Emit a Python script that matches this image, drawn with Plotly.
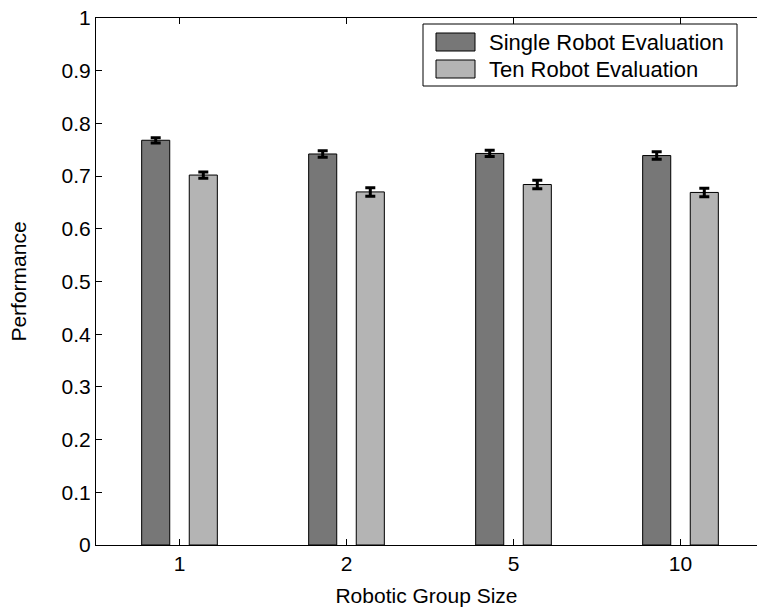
import plotly.graph_objects as go

group_sizes = ["1", "2", "5", "10"]
single_eval = [0.768, 0.742, 0.743, 0.739]
single_err = [0.005, 0.006, 0.006, 0.007]
ten_eval = [0.702, 0.670, 0.684, 0.669]
ten_err = [0.006, 0.008, 0.008, 0.008]
series_names = ["Single Robot Evaluation", "Ten Robot Evaluation"]
series_colors = ["#777777", "#b4b4b4"]

FONT = "Liberation Sans, Arial, Helvetica, sans-serif"

fig = go.Figure()
for name, vals, errs, col in zip(series_names, [single_eval, ten_eval],
                                 [single_err, ten_err], series_colors):
    fig.add_trace(go.Bar(
        x=group_sizes, y=vals, name=name,
        marker=dict(color=col, line=dict(color="black", width=1)),
        error_y=dict(type="data", array=errs, visible=True,
                     color="black", thickness=3, width=5),
        showlegend=False,
    ))

W, H = 757, 612
ml, mr, mt, mb = 96, 0, 18, 67
plot_w = W - ml - mr
cat_px = 167.0

fig.update_layout(
    width=W, height=H,
    margin=dict(l=ml, r=mr, t=mt, b=mb),
    paper_bgcolor="white", plot_bgcolor="white",
    barmode="group", bargap=0.43, bargroupgap=0.41,
    font=dict(family=FONT, size=21, color="black"),
    xaxis=dict(
        type="category", range=[-0.5, -0.5 + plot_w / cat_px],
        showline=True, linecolor="black", linewidth=1, mirror="ticks",
        ticks="inside", ticklen=6, tickcolor="black",
        showgrid=False, zeroline=False,
        tickfont=dict(family=FONT, size=21),
        title=dict(text="Robotic Group Size", standoff=14,
                   font=dict(family=FONT, size=21)),
    ),
    yaxis=dict(
        range=[0, 1], tickvals=[i / 10 for i in range(11)],
        ticktext=["0", "0.1", "0.2", "0.3", "0.4", "0.5", "0.6",
                  "0.7", "0.8", "0.9", "1"],
        showline=True, linecolor="black", linewidth=1,
        ticks="inside", ticklen=6, tickcolor="black",
        showgrid=False, zeroline=False,
        tickfont=dict(family=FONT, size=21),
        title=dict(text="Performance", standoff=29,
                   font=dict(family=FONT, size=21)),
    ),
)

# Legend box drawn in pixel-based paper coordinates
plot_h = H - mt - mb


def px_x(x):
    return (x - ml) / plot_w


def px_y(y):
    return (H - mb - y) / plot_h


fig.add_shape(type="rect", xref="paper", yref="paper",
              x0=px_x(423), x1=px_x(737), y0=px_y(86), y1=px_y(24),
              line=dict(color="black", width=1), fillcolor="white",
              layer="above")
row_centers = [42, 69]
for name, col, yc in zip(series_names, series_colors, row_centers):
    fig.add_shape(type="rect", xref="paper", yref="paper",
                  x0=px_x(436), x1=px_x(475), y0=px_y(yc + 9), y1=px_y(yc - 9),
                  line=dict(color="black", width=1), fillcolor=col,
                  layer="above")
    fig.add_annotation(xref="paper", yref="paper", x=px_x(487), y=px_y(yc),
                       text=name, showarrow=False, xanchor="left",
                       yanchor="middle",
                       font=dict(family=FONT, size=22, color="black"))

fig.write_html("out.html")
